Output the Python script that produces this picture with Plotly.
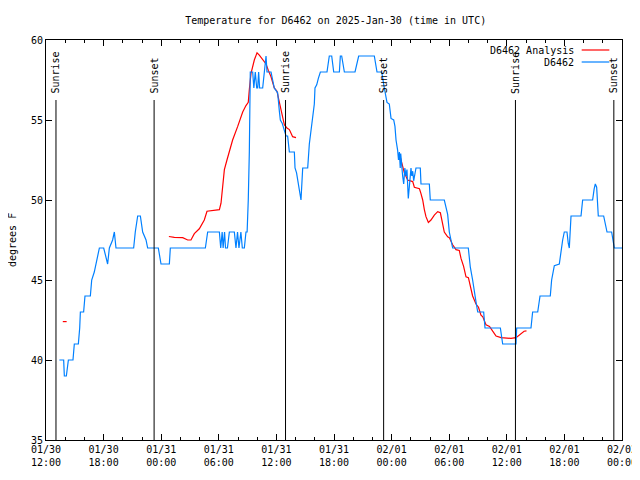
import plotly.graph_objects as go

# hours after 2025-01-30 12:00 UTC
obs_hours = [1.39, 1.84, 1.91, 2.12, 2.33, 2.81, 2.95, 3.37, 3.51, 3.58, 3.92, 4.06, 4.62, 4.76, 5.03, 5.21,
             5.56, 6.01, 6.42, 6.6, 6.94, 7.12, 7.29, 9.13, 9.3, 9.55, 9.83, 10.07, 10.42, 10.59, 11.70, 11.98,
             12.85, 12.95, 16.6, 16.84, 18.06, 18.2, 18.35, 18.45, 18.6, 18.7, 18.9, 19.1, 19.62, 19.79, 19.95,
             20.1, 20.3, 20.45, 20.66, 20.83, 20.95, 21.07, 21.18, 21.28, 21.53, 21.65, 21.8, 21.95, 22.05, 22.15,
             22.25, 22.57, 22.74, 22.92, 23.02, 23.44, 23.78, 24.13, 24.3, 24.41, 24.6, 24.83, 25.0, 25.17, 25.35,
             25.87, 25.94, 26.1, 26.28, 26.45, 26.56, 26.74, 27.26, 27.43, 27.53, 27.65, 27.78, 27.95, 28.02, 28.2,
             28.37, 28.58, 29.27, 29.51, 29.76, 29.97, 30.56, 30.66, 30.80, 31.08, 32.19, 32.4, 32.57, 34.20, 34.48,
             34.97, 35.07, 35.24, 35.52, 35.76, 35.94, 36.22, 36.35, 36.46, 36.63, 36.72, 36.81, 36.9, 36.95, 37.05,
             37.15, 37.26, 37.38, 37.5, 37.6, 37.74, 37.85, 38.02, 38.1, 38.2, 38.3, 38.54, 38.99, 39.06, 39.93,
             40.03, 41.49, 41.66, 41.84, 42.01, 42.2, 42.36, 43.99, 44.2, 44.44, 44.62, 44.8, 44.97, 45.59, 45.73,
             47.33, 47.57, 48.96, 49.03, 50.52, 50.69, 51.22, 51.46, 52.53, 52.67, 52.95, 53.47, 53.65, 53.82,
             53.99, 54.27, 54.4, 54.51, 54.69, 55.73, 55.90, 56.94, 57.1, 57.22, 57.36, 57.53, 58.09, 58.33, 58.44,
             58.92, 59.13, 59.20, 60.0]
obs_temp = [40, 40, 39, 39, 40, 40, 41, 41, 42, 43, 43, 44, 44, 45, 45.5, 46,
            47, 47, 46, 47, 47.5, 48, 47, 47, 48, 49, 49, 48, 47.5, 47, 47, 46,
            46, 47, 47, 48, 48, 47, 48, 47, 48, 47, 47, 48, 48, 47, 48,
            47, 48, 47, 47, 48, 48, 50, 53, 58, 58, 57, 58, 57, 57, 58,
            57, 57, 58, 59, 58, 58, 57, 56.7, 55.6, 55, 54.8, 54.4, 54, 54, 53,
            53, 52, 51.7, 51, 50.5, 50, 52, 52, 53.5, 54, 54.6, 55, 56, 57, 57.2,
            57.6, 58, 58, 59, 59, 58, 58, 59, 59, 58, 58, 58.6, 59, 59, 58,
            58, 57.7, 57, 56.1, 56, 55.1, 55, 54.6, 53.75, 53.1, 52.5, 53, 52, 52.9, 52,
            51.5, 51, 52, 51.5, 51.9, 50.1, 51, 52, 51.5, 51.8, 51.2, 52, 52, 51, 51,
            50, 50, 49.6, 49.1, 48, 47.5, 47, 47, 45.8, 45, 44.2, 43.6, 43, 43, 42,
            42, 41, 41, 42, 42, 43, 43, 44, 44, 45, 45.9, 46, 46.9, 47.5,
            48, 48, 47.3, 47, 49, 49, 50, 50, 50.7, 51, 50.8, 49, 49, 48.3, 48,
            48, 47.3, 47, 47]

ana_hours = [1.75, 2.15, None,
             12.8, 13.37, 14.24, 14.76, 15.1, 15.45, 15.97, 16.49, 16.77, 18.06, 18.23, 18.40, 18.58, 18.85,
             19.10, 19.44, 19.97, 20.49, 20.83, 21.07, 21.18, 21.35, 21.70, 21.98, 22.22, 22.57, 22.92, 23.16,
             23.44, 23.78, 24.06, 24.31, 24.55, 24.83, 25.1, 25.35, 25.69, 26.04, None,
             36.9, 37.15, 37.33, 37.67, 38.2, 38.37, 38.9, 39.06, 39.24, 39.41, 39.58, 39.83, 40.10, 40.45, 40.80,
             41.08, 41.32, 41.49, 41.84, 42.01, 42.36, 42.71, 43.05, 43.23, 43.5, 43.75, 44.0, 44.20, 44.44, 44.79,
             45.05, 45.31, 45.5, 45.83, 46.2, 46.53, 46.88, 47.40, 48.44, 48.96, 49.2, 49.5, 49.8, 50.05]
ana_temp = [42.4, 42.4, None,
            47.72, 47.67, 47.65, 47.5, 47.5, 47.9, 48.2, 48.75, 49.3, 49.4, 49.8, 50.8, 51.9, 52.5,
            53.1, 53.75, 54.6, 55.5, 55.9, 56.1, 56.9, 57.9, 58.75, 59.2, 59.05, 58.75, 58.5, 58.1,
            57.7, 57.0, 56.8, 56.1, 55.4, 54.7, 54.5, 54.4, 53.96, 53.9, None,
            52.7, 52.1, 51.7, 51.25, 51.15, 50.8, 50.7, 50.4, 50.0, 49.4, 48.96, 48.6, 48.75, 49.06, 49.27,
            49.2, 48.5, 48.0, 47.7, 47.65, 47.2, 46.9, 46.85, 46.35, 45.85, 45.2, 45.15, 44.6, 44.0, 43.5,
            43.3, 42.8, 42.7, 42.2, 42.1, 41.8, 41.5, 41.4, 41.35, 41.4, 41.5, 41.67, 41.8, 41.82]

sun_hours = [1.04, 11.26, 24.95, 35.17, 48.9, 59.15]
sun_labels = ["Sunrise", "Sunset", "Sunrise", "Sunset", "Sunrise", "Sunset"]

tick_hours = [0, 6, 12, 18, 24, 30, 36, 42, 48, 54, 60]
tick_text = ["01/30<br>12:00", "01/30<br>18:00", "01/31<br>00:00", "01/31<br>06:00", "01/31<br>12:00",
             "01/31<br>18:00", "02/01<br>00:00", "02/01<br>06:00", "02/01<br>12:00", "02/01<br>18:00",
             "02/02<br>00:00"]

FONT = dict(family="DejaVu Sans Mono", size=10, color="black")
RED = "#ff0000"
BLUE = "#0080ff"

fig = go.Figure()
fig.add_trace(go.Scatter(x=ana_hours, y=ana_temp, mode="lines", name="D6462 Analysis",
                         line=dict(color=RED, width=1.2), connectgaps=False, showlegend=False))
fig.add_trace(go.Scatter(x=obs_hours, y=obs_temp, mode="lines", name="D6462",
                         line=dict(color=BLUE, width=1.2), showlegend=False))

shapes = []
annotations = []
for h, lab in zip(sun_hours, sun_labels):
    shapes.append(dict(type="line", xref="x", yref="y", x0=h, x1=h, y0=35, y1=56.25,
                       line=dict(color="black", width=1)))
    annotations.append(dict(x=h, y=56.53, xref="x", yref="y", text=lab, textangle=-90,
                            showarrow=False, xanchor="center", yanchor="bottom", font=FONT))

# legend (gnuplot style: text, then line sample)
for ypos, name, col in [(0.975, "D6462 Analysis", RED), (0.945, "D6462", BLUE)]:
    annotations.append(dict(x=0.920, y=ypos, xref="paper", yref="paper", text=name, showarrow=False,
                            xanchor="right", yanchor="middle", font=FONT))
    shapes.append(dict(type="line", xref="paper", yref="paper", x0=0.930, x1=0.978, y0=ypos, y1=ypos,
                       line=dict(color=col, width=1.2)))

annotations.append(dict(x=-0.059, y=0.5, xref="paper", yref="paper", text="degrees F", textangle=-90,
                        showarrow=False, xanchor="center", yanchor="middle", font=FONT))

# the page body has an 8px margin; the figure is offset to compensate
fig.update_layout(
    width=640, height=464,
    margin=dict(l=38, r=26, t=32, b=32, autoexpand=False),
    paper_bgcolor="white", plot_bgcolor="white",
    font=FONT,
    title=dict(text="Temperature for D6462 on 2025-Jan-30 (time in UTC)", x=0.512, xanchor="center",
               y=1 - 12 / 464, yanchor="middle", font=FONT, automargin=False),
    shapes=shapes, annotations=annotations,
)
fig.update_xaxes(range=[0, 60], tickvals=tick_hours, ticktext=tick_text, ticks="inside", ticklen=6,
                 tickcolor="black", showline=True, linecolor="black", linewidth=1, mirror="allticks",
                 showgrid=False, zeroline=False, automargin=False, ticklabeloverflow="allow",
                 minor=dict(dtick=2, tick0=0, ticks="inside", ticklen=3, tickcolor="black", showgrid=False))
fig.update_yaxes(range=[35, 60], dtick=5, ticks="inside", ticklen=6, tickcolor="black", showline=True,
                 linecolor="black", linewidth=1, mirror="allticks", showgrid=False, zeroline=False,
                 automargin=False)

fig.write_html("out.html", default_width="640px", default_height="464px")
